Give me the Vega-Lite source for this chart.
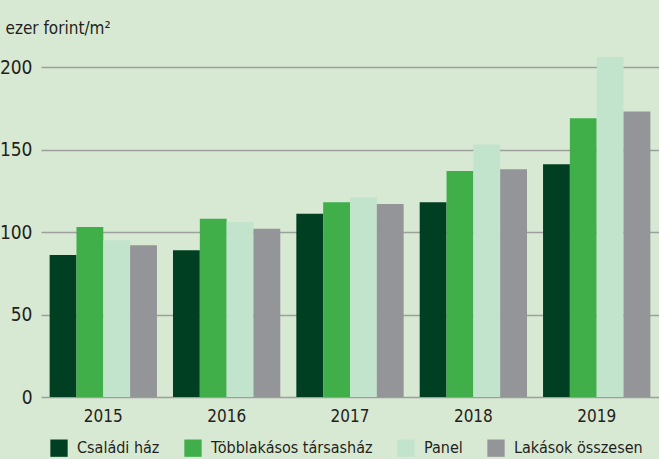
{
  "$schema": "https://vega.github.io/schema/vega-lite/v6.json",
  "width": 618,
  "height": 330,
  "autosize": {"type": "none"},
  "padding": {"left": 41, "top": 67, "right": 0, "bottom": 62},
  "background": "#d8e9d3",
  "config": {
    "view": {"stroke": null},
    "font": "DejaVu Sans Condensed, Roboto",
    "axis": {"labelColor": "#231f20", "titleColor": "#231f20", "labelFont": "DejaVu Sans Condensed, Roboto", "titleFont": "DejaVu Sans Condensed, Roboto"},
    "legend": {"labelColor": "#231f20", "labelFont": "DejaVu Sans Condensed, Roboto"}
  },
  "data": {
    "values": [
      {"year": "2015", "series": "Családi ház", "value": 86},
      {"year": "2015", "series": "Többlakásos társasház", "value": 103},
      {"year": "2015", "series": "Panel", "value": 95},
      {"year": "2015", "series": "Lakások összesen", "value": 92},
      {"year": "2016", "series": "Családi ház", "value": 89},
      {"year": "2016", "series": "Többlakásos társasház", "value": 108},
      {"year": "2016", "series": "Panel", "value": 106},
      {"year": "2016", "series": "Lakások összesen", "value": 102},
      {"year": "2017", "series": "Családi ház", "value": 111},
      {"year": "2017", "series": "Többlakásos társasház", "value": 118},
      {"year": "2017", "series": "Panel", "value": 121},
      {"year": "2017", "series": "Lakások összesen", "value": 117},
      {"year": "2018", "series": "Családi ház", "value": 118},
      {"year": "2018", "series": "Többlakásos társasház", "value": 137},
      {"year": "2018", "series": "Panel", "value": 153},
      {"year": "2018", "series": "Lakások összesen", "value": 138},
      {"year": "2019", "series": "Családi ház", "value": 141},
      {"year": "2019", "series": "Többlakásos társasház", "value": 169},
      {"year": "2019", "series": "Panel", "value": 206},
      {"year": "2019", "series": "Lakások összesen", "value": 173}
    ]
  },
  "mark": {"type": "bar", "clip": false},
  "encoding": {
    "x": {
      "field": "year",
      "type": "nominal",
      "scale": {"paddingInner": 0.13, "paddingOuter": 0.07},
      "axis": {
        "title": null,
        "labelAngle": 0,
        "labelFontSize": 17,
        "labelPadding": 11,
        "ticks": false,
        "domain": false
      }
    },
    "xOffset": {
      "field": "series",
      "type": "nominal",
      "sort": ["Családi ház", "Többlakásos társasház", "Panel", "Lakások összesen"],
      "scale": {"paddingInner": 0, "paddingOuter": 0}
    },
    "y": {
      "field": "value",
      "type": "quantitative",
      "scale": {"domain": [0, 200], "nice": false},
      "axis": {
        "title": "ezer forint/m²",
        "titleAngle": 0,
        "titleAlign": "left",
        "titleBaseline": "alphabetic",
        "titleX": -36,
        "titleY": -34,
        "titleFontSize": 17,
        "titleFontWeight": "normal",
        "values": [0, 50, 100, 150, 200],
        "labelFontSize": 19,
        "labelPadding": 9,
        "ticks": false,
        "domain": false,
        "grid": true,
        "gridColor": "#9c9f9c",
        "gridWidth": 1.5,
        "gridOpacity": 1
      }
    },
    "color": {
      "field": "series",
      "type": "nominal",
      "sort": ["Családi ház", "Többlakásos társasház", "Panel", "Lakások összesen"],
      "scale": {
        "domain": ["Családi ház", "Többlakásos társasház", "Panel", "Lakások összesen"],
        "range": ["#003f22", "#40ae49", "#c2e3cc", "#949598"]
      },
      "legend": {
        "title": null,
        "orient": "none",
        "direction": "horizontal",
        "legendX": 9,
        "legendY": 372,
        "symbolType": "square",
        "symbolSize": 300,
        "symbolStrokeWidth": 0,
        "symbolOpacity": 1,
        "labelFontSize": 16,
        "labelOffset": 9,
        "columnPadding": 24,
        "labelLimit": 300
      }
    }
  }
}
